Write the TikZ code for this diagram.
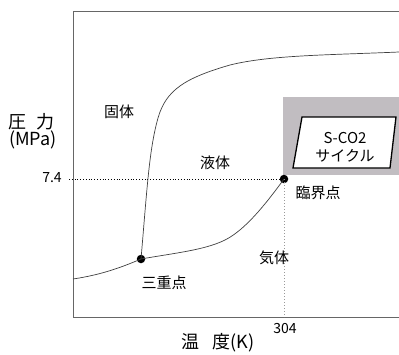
\documentclass[tikz,border=0pt]{standalone}
\usepackage{fontspec}
\setmainfont{Noto Sans CJK JP}
\newfontfamily\jpfont{Noto Sans CJK JP}
\definecolor{boxgray}{RGB}{193,189,193}
\begin{document}
\begin{tikzpicture}[x=1pt,y=-1pt,
  lbl/.style={inner sep=0pt,font=\jpfont\fontsize{15}{17}\selectfont},
  axlbl/.style={inner sep=0pt,font=\jpfont\fontsize{18}{20}\selectfont},
  numlbl/.style={inner sep=0pt,font=\jpfont\fontsize{14}{16}\selectfont},
  axis/.style={draw=black!60,line width=0.9pt},
  curve/.style={draw=black!75,line width=0.7pt},
  dotpt/.style={circle,fill=black,inner sep=0pt,minimum size=8.5pt}]
\useasboundingbox (0,0) rectangle (399,354);
% gray region
\fill[boxgray] (283,97) rectangle (399,175);
\draw[line width=1.3pt,fill=white] (302,117) -- (396,117) -- (390,168) -- (293,168) -- cycle;
\node[lbl,align=center] (sco2) at (345,138) {S-CO2};
\node[lbl] (cycle) at (345,156) {サイクル};
% axes
\coordinate (ytop) at (73,11);
\coordinate (ybot) at (73,317);
\coordinate (xend) at (399,317);
\coordinate (topend) at (399,11);
\draw[axis] (topend) -- (ytop) -- (ybot) -- (xend);
% points
\node[dotpt] (tp) at (141,259) {};
\node[dotpt] (cp) at (284,179) {};
\coordinate (yp) at (73,179);
\coordinate (ytick) at (69,179);
\coordinate (xp) at (284,317);
\draw[dotted,line width=0.8pt] (ytick) -- (yp) -- (cp.center);
\draw[dotted,black!40,line width=1pt] (cp.center) -- (xp);
% curves
\coordinate (sublstart) at (73,279);
\coordinate (meltend) at (399,52);
\draw[curve] (sublstart) .. controls (100,275) and (120,268) .. (tp.center);
\draw[curve] (tp.center) .. controls (175,253) and (205,250) .. (225,240) .. controls (245,230) and (265,205) .. (cp.center);
\draw[curve] (tp.center) .. controls (147,190) and (149,150) .. (158,118) .. controls (166,90) and (185,78) .. (230,65) .. controls (270,55) and (330,55) .. (meltend);
% labels
\node[lbl] (solid) at (119,112) {固体};
\node[lbl] (liquid) at (215,163) {液体};
\node[lbl] (gas) at (274,258) {気体};
\node[lbl] (crit) at (318,193) {臨界点};
\node[lbl] (triple) at (164,283) {三重点};
\node[axlbl] (pres) at (32,122) {圧\hspace{10pt}力};
\node[axlbl] (mpa) at (33,140) {(MPa)};
\node[axlbl] (temp) at (218,343) {温\hspace{13pt}度(K)};
\node[numlbl] (v74) at (52,178) {7.4};
\node[numlbl] (v304) at (285,329) {304};
\end{tikzpicture}
\end{document}
